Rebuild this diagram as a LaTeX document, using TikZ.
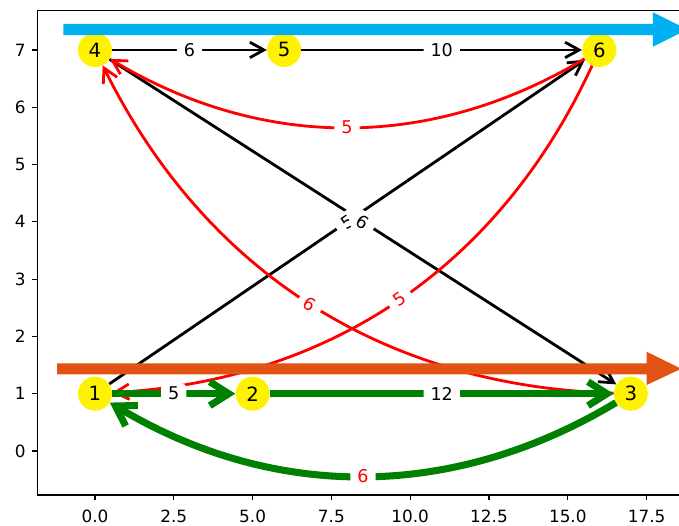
\documentclass[tikz,border=0pt]{standalone}
\usepackage{fontspec}
\setmainfont{DejaVu Sans}
\usetikzlibrary{arrows.meta}

\definecolor{barblue}{RGB}{0,176,240}
\definecolor{barorange}{RGB}{226,82,18}
\definecolor{edgegreen}{RGB}{0,128,0}

\begin{document}
\begin{tikzpicture}[x=0.788cm, y=1.4323cm,
    every node/.style={font=\fontsize{12.5}{14}\selectfont},
    vertex/.style={circle, fill=yellow, minimum size=0.85cm, inner sep=0pt, font=\fontsize{14}{16}\selectfont},
    edge/.style={line width=2pt, -{Straight Barb[length=10pt, width=11pt]}},
    blackedge/.style={edge, black},
    rededge/.style={edge, red},
    greenedge/.style={line width=5pt, edgegreen, -{Straight Barb[length=13.5pt, width=17pt]}},
    elabel/.style={fill=white, rounded corners=3pt, inner xsep=5pt, inner ysep=2.5pt},
    axtick/.style={line width=0.8pt},
    ticklabel/.style={inner sep=2pt, font=\fontsize{12}{14}\selectfont}]

  \useasboundingbox (-3.014,-1.309) rectangle (18.528,7.872);
  \clip (-3.014,-1.309) rectangle (18.528,7.872);

  % axes frame and ticks
  \draw[axtick] (18.8,7.686) -- (-1.83,7.686) -- (-1.83,-0.768) -- (18.8,-0.768);
  \foreach \yv in {0,...,7}
    \draw[axtick] (-1.83,\yv) -- ++(-3.5pt,0) node[left=2.5pt, ticklabel] {\yv};
  \foreach \xv/\xl in {0/0.0, 2.5/2.5, 5/5.0, 7.5/7.5, 10/10.0, 12.5/12.5, 15/15.0, 17.5/17.5}
    \draw[axtick] (\xv,-0.768) -- ++(0,-3.5pt) node[below=5pt, ticklabel] {\xl};

  % vertices
  \node[vertex] (n1) at (0,1) {1};
  \node[vertex] (n2) at (5,1) {2};
  \node[vertex] (n3) at (17,1) {3};
  \node[vertex] (n4) at (0,7) {4};
  \node[vertex] (n5) at (6,7) {5};
  \node[vertex] (n6) at (16,7) {6};

  % control points of the curved edges
  \coordinate (c64a) at (10.663,5.243);
  \coordinate (c64b) at (5.330,5.243);
  \coordinate (c34a) at (9.152,1.129);
  \coordinate (c34b) at (3.485,3.129);
  \coordinate (c61a) at (12.848,3.239);
  \coordinate (c61b) at (7.515,1.239);
  \coordinate (c31a) at (11.333,-0.870);
  \coordinate (c31b) at (5.667,-0.870);

  \draw[blackedge] (n4) -- (n5);
  \draw[blackedge] (n5) -- (n6);
  \draw[blackedge] (n1) -- (n6);
  \draw[blackedge] (n4) -- (n3);

  \draw[rededge] (n6) .. controls (c64a) and (c64b) .. (n4);
  \draw[rededge] (n3) .. controls (c34a) and (c34b) .. (n4);
  \draw[rededge] (n6) .. controls (c61a) and (c61b) .. (n1);

  \draw[greenedge] (n1) -- (n2);
  \draw[greenedge] (n2) -- (n3);
  \draw[greenedge] (n3) .. controls (c31a) and (c31b) .. (n1);

  % edge weights
  \path (n4) -- node[elabel] {6} (n5);
  \path (n5) -- node[elabel] {10} (n6);
  \path (n1) -- node[elabel, sloped] {5} (n6);
  \path (n4) -- node[elabel, sloped] {6} (n3);
  \path (n6) .. controls (c64a) and (c64b) .. (n4) node[pos=0.5, sloped, elabel, text=red] {5};
  \path (n3) .. controls (c34a) and (c34b) .. (n4) node[pos=0.5, sloped, elabel, text=red] {6};
  \path (n6) .. controls (c61a) and (c61b) .. (n1) node[pos=0.5, sloped, elabel, text=red] {5};
  \path (n1) -- node[elabel] {5} (n2);
  \path (n2) -- node[elabel] {12} (n3);
  \path (n3) .. controls (c31a) and (c31b) .. (n1) node[pos=0.5, sloped, elabel, text=red] {6};

  % wide arrows
  \fill[barblue] (-1.0,7.257) -- (17.7,7.257) -- (17.7,7.057) -- (18.8,7.357)
    -- (17.7,7.657) -- (17.7,7.457) -- (-1.0,7.457) -- cycle;
  \fill[barorange] (-1.2,1.339) -- (17.5,1.339) -- (17.5,1.152) -- (18.6,1.435)
    -- (17.5,1.733) -- (17.5,1.531) -- (-1.2,1.531) -- cycle;
\end{tikzpicture}
\end{document}
